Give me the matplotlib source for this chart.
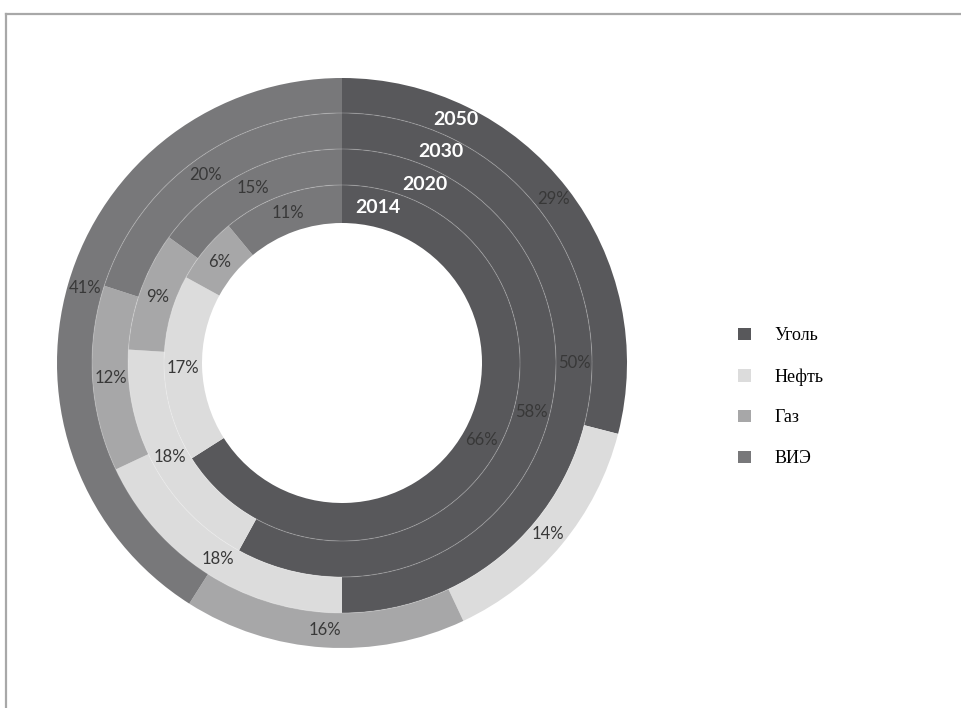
import matplotlib.pyplot as plt
from matplotlib.lines import Line2D
from matplotlib.patches import Patch
import numpy as np

# shares of primary energy, %
fuels = ["Уголь", "Нефть", "Газ", "ВИЭ"]
years = ["2014", "2020", "2030", "2050"]
shares = {
    "2014": [66, 17, 6, 11],
    "2020": [58, 18, 9, 15],
    "2030": [50, 18, 12, 20],
    "2050": [29, 14, 16, 41],
}
colors = ["#58585b", "#dcdcdc", "#a7a7a8", "#78787a"]

fig = plt.figure(figsize=(9.62, 7.08), dpi=100)

# pie axes: centre at (342, 363) px, 600 px square box
ax = fig.add_axes([(342 - 300) / 962, (708 - 363 - 300) / 708, 600 / 962, 600 / 708])

radii = {"2014": 178, "2020": 214, "2030": 250, "2050": 285}
inner = {"2014": 140, "2020": 178, "2030": 214, "2050": 250}

for y in years:
    R = radii[y]
    w = R - inner[y]
    wedges, texts, autotexts = ax.pie(
        shares[y], radius=R, colors=colors, startangle=90, counterclock=False,
        wedgeprops=dict(width=w, linewidth=0),
        autopct=lambda p: f"{p:.0f}%", pctdistance=(R - w / 2) / R,
        textprops=dict(fontsize=12, color="#383838", family="Lato"))

# faint separators between the rings
for y in ["2020", "2030", "2050"]:
    ax.add_patch(plt.Circle((0, 0), inner[y], fill=False, ec="white", lw=0.8, alpha=0.2))

ax.set_xlim(-300, 300)
ax.set_ylim(-300, 300)
ax.set_aspect("equal")
ax.axis("off")

# year labels on the rings near the top
year_angle = {"2014": 13, "2020": 25, "2030": 25, "2050": 25}
for y in years:
    r = radii[y] - (radii[y] - inner[y]) / 2 + 1
    a = np.deg2rad(90 - year_angle[y])
    ax.text(r * np.cos(a), r * np.sin(a), y, color="white", fontsize=14,
            fontweight="bold", family="Lato", ha="center", va="center")

# legend
handles = [Patch(facecolor=c, edgecolor="none") for c in colors]
fig.legend(handles, fuels, loc="upper left", bbox_to_anchor=(722 / 962, 1 - 311 / 708),
           frameon=False, prop=dict(family="Liberation Serif", size=13),
           handlelength=0.7, handleheight=0.7, handletextpad=1.3, labelspacing=1.32)

# chart frame (top and left edges only visible)
fig.add_artist(Line2D([6 / 962, 1], [1 - 14 / 708, 1 - 14 / 708], color="#a8a8a8", lw=1.6))
fig.add_artist(Line2D([6 / 962, 6 / 962], [0, 1 - 14 / 708], color="#a8a8a8", lw=1.6))

plt.savefig("out.png", dpi=100)
